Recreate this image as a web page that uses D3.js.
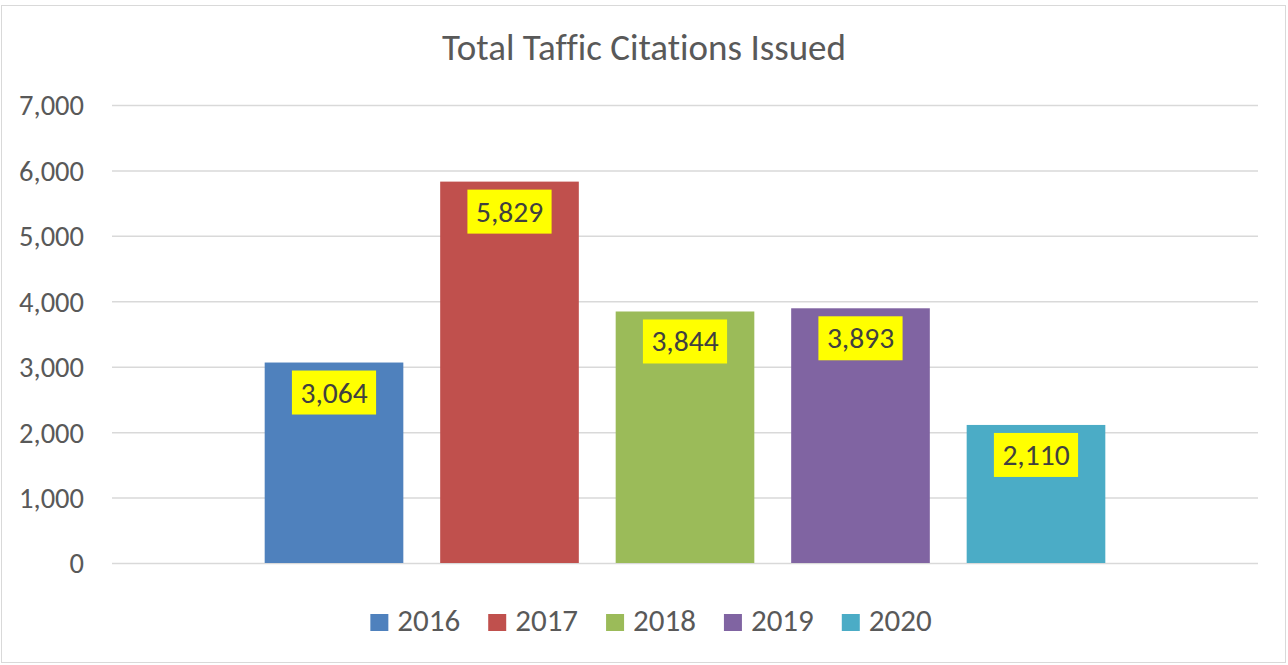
<!DOCTYPE html>
<html>
<head>
<meta charset="utf-8">
<script src="https://cdn.jsdelivr.net/npm/d3@7"></script>
<style>
  body { margin: 0; background: #fff; }
  svg text { font-family: Carlito, Calibri, "Noto Sans", sans-serif; font-variant-ligatures: none; }
</style>
</head>
<body>
<div id="chart"></div>
<script>
var years   = ['2016', '2017', '2018', '2019', '2020'];
var values  = [3064, 5829, 3844, 3893, 2110];
var colors  = ['#4F81BD', '#C0504D', '#9BBB59', '#8064A2', '#4BACC6'];
var y_ticks = [0, 1000, 2000, 3000, 4000, 5000, 6000, 7000];
var title   = 'Total Taffic Citations Issued';

function bar_series_draw(o) {
  var W = 1288, H = 665;
  var m = { left: 112, right: 30, top: 105, bottom: 102 };

  var svg = d3.select(o.container).append('svg')
    .attr('width', W)
    .attr('height', H);

  // chart frame
  svg.append('rect')
    .attr('x', 1.5).attr('y', 5.5)
    .attr('width', W - 4).attr('height', H - 8)
    .attr('fill', '#fff')
    .attr('stroke', '#D9D9D9');

  var x = d3.scaleBand()
    .domain(o.domain)
    .range([m.left, W - m.right])
    .paddingInner(0.21)
    .paddingOuter(0.87);

  var y = d3.scaleLinear()
    .domain([0, d3.max(o.y_ticks)])
    .range([H - m.bottom, m.top]);

  var data = o.domain.map((k, i) => ({ year: k, v: o.values[i], color: o.colors[i] }));

  svg.append('text')
    .attr('x', W / 2)
    .attr('y', 60)
    .attr('text-anchor', 'middle')
    .style('font-size', '37px')
    .style('fill', '#595959')
    .text(o.title);

  var yaxis = svg.append('g')
    .attr('class', 'y-axis')
    .attr('transform', `translate(${m.left},0)`)
    .call(d3.axisLeft(y)
      .tickValues(o.y_ticks)
      .tickSize(-(W - m.left - m.right))
      .tickPadding(28)
      .tickFormat(d3.format(',')));

  yaxis.select('.domain').remove();
  yaxis.selectAll('.tick line')
    .attr('stroke', '#D9D9D9')
    .attr('stroke-width', 1.5);
  yaxis.selectAll('.tick text')
    .style('font-size', '28.5px')
    .style('fill', '#595959')
    .attr('dy', '0.35em');

  svg.selectAll('rect.bar')
    .data(data).enter()
    .append('rect')
    .attr('class', 'bar')
    .attr('x', (d) => x(d.year))
    .attr('y', (d) => y(d.v))
    .attr('width', x.bandwidth())
    .attr('height', (d) => y(0) - y(d.v))
    .style('fill', (d) => d.color);

  var lab = svg.selectAll('g.label')
    .data(data).enter()
    .append('g')
    .attr('class', 'label')
    .attr('transform', (d) => `translate(${x(d.year) + x.bandwidth() / 2},${y(d.v) + 8})`);

  lab.append('rect')
    .attr('y', 0)
    .attr('height', 44)
    .style('fill', '#FFFF00');

  lab.append('text')
    .attr('y', 32)
    .attr('text-anchor', 'middle')
    .style('font-size', '29.5px')
    .style('fill', '#404040')
    .text((d) => d3.format(',')(d.v));

  lab.each(function() {
    var t = d3.select(this).select('text').node().getComputedTextLength();
    var w = t + 17;
    d3.select(this).select('rect').attr('x', -w / 2).attr('width', w);
  });

  // legend
  var leg = svg.append('g').attr('class', 'legend');
  var items = leg.selectAll('g.item')
    .data(data).enter()
    .append('g')
    .attr('class', 'item');

  items.append('rect')
    .attr('y', 614)
    .attr('width', 18)
    .attr('height', 17)
    .style('fill', (d) => d.color);

  items.append('text')
    .attr('x', 27)
    .attr('y', 631)
    .style('font-size', '31px')
    .style('fill', '#595959')
    .text((d) => d.year);

  var off = 0;
  items.each(function() {
    var w = this.getBBox().width;
    d3.select(this).attr('transform', `translate(${off},0)`);
    off += w + 28;
  });
  off -= 28;
  leg.attr('transform', `translate(${(W - off) / 2 + 7},0)`);

  return { svg: svg, x: x, y: y };
}

bar_series_draw({
  container: '#chart',
  domain: years,
  values: values,
  colors: colors,
  y_ticks: y_ticks,
  title: title
});
</script>
</body>
</html>
